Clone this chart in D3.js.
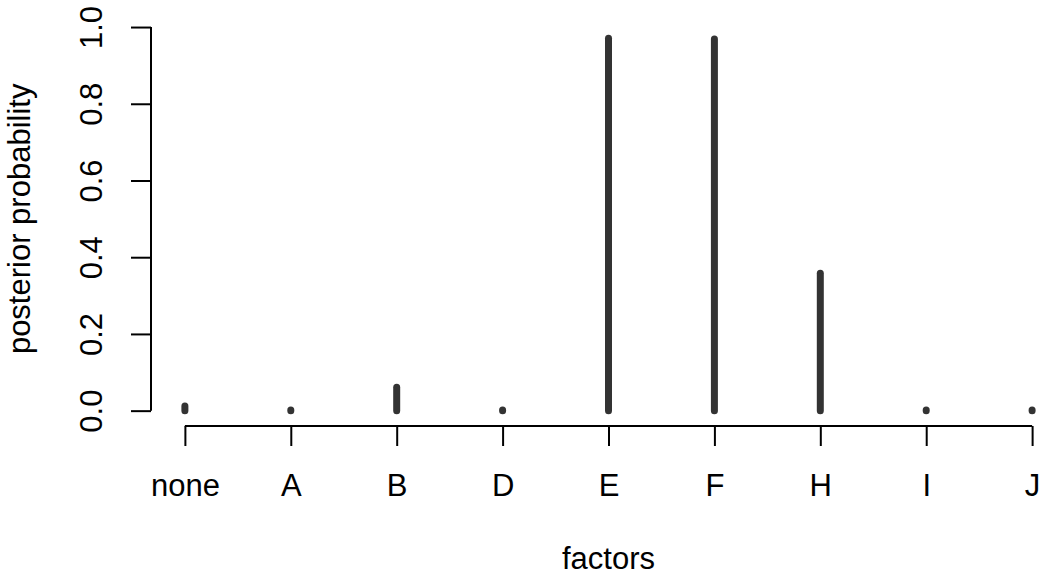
<!DOCTYPE html>
<html>
<head>
<meta charset="utf-8">
<script src="https://cdn.jsdelivr.net/npm/d3@7"></script>
<style>
  body { margin: 0; background: #fff; }
  svg { display: block; font-family: "Liberation Sans", Arial, Helvetica, sans-serif; }
</style>
</head>
<body>
<div class="chart"></div>
<script>
// factor names and their posterior probabilities
var factors = ['none', 'A', 'B', 'D', 'E', 'F', 'H', 'I', 'J'];
var probs = [0.012, 0.002, 0.061, 0.002, 0.971, 0.969, 0.358, 0.002, 0.002];
var yTicks = [0, 0.2, 0.4, 0.6, 0.8, 1.0];

var cfg = {
    w: 1040,
    h: 576,
    left: 151,
    right: 1066,
    top: 11.7,
    bottom: 426,
    fontSize: 31
};

var dataset = factors.map(function (f, i) {
    return { name: f, idx: i + 1, p: probs[i] };
});

var svg = d3.select('.chart')
    .append('svg')
    .attr('width', cfg.w)
    .attr('height', cfg.h);

// R style: 4% padding around the data range
var xScale = d3.scaleLinear()
    .domain([1 - 0.32, factors.length + 0.32])
    .range([cfg.left, cfg.right]);

var yScale = d3.scaleLinear()
    .domain([-0.04, 1.04])
    .range([cfg.bottom, cfg.top]);

// spikes (type = "h")
svg.selectAll('line.spike')
    .data(dataset)
    .enter()
    .append('line')
    .attr('class', 'spike')
    .attr('x1', function (d) { return xScale(d.idx); })
    .attr('x2', function (d) { return xScale(d.idx); })
    .attr('y1', yScale(0))
    .attr('y2', function (d) { return yScale(d.p); })
    .attr('stroke', '#333333')
    .attr('stroke-width', 7)
    .attr('stroke-linecap', 'round');

// x axis
var xAxis = d3.axisBottom(xScale)
    .tickValues(dataset.map(function (d) { return d.idx; }))
    .tickFormat(function (v) { return factors[v - 1]; })
    .tickSize(20);

var gx = svg.append('g')
    .attr('transform', 'translate(0,' + cfg.bottom + ')')
    .call(xAxis);
gx.select('.domain').remove();
gx.append('line')
    .attr('x1', xScale(1))
    .attr('x2', xScale(factors.length))
    .attr('stroke', '#000')
    .attr('stroke-width', 2);
gx.selectAll('.tick line').attr('stroke', '#000').attr('stroke-width', 2);
gx.selectAll('.tick text')
    .attr('y', 70)
    .attr('dy', 0)
    .attr('fill', '#000')
    .style('font-size', cfg.fontSize + 'px');

// y axis
var yAxis = d3.axisLeft(yScale)
    .tickValues(yTicks)
    .tickFormat(d3.format('.1f'))
    .tickSize(20);

var gy = svg.append('g')
    .attr('transform', 'translate(' + cfg.left + ',0)')
    .call(yAxis);
gy.select('.domain').remove();
gy.append('line')
    .attr('y1', yScale(0))
    .attr('y2', yScale(1))
    .attr('stroke', '#000')
    .attr('stroke-width', 2);
gy.selectAll('.tick line').attr('stroke', '#000').attr('stroke-width', 2);
gy.selectAll('.tick text')
    .attr('transform', 'rotate(-90)')
    .attr('x', 0)
    .attr('y', -49)
    .attr('dy', 0)
    .attr('text-anchor', 'middle')
    .attr('fill', '#000')
    .style('font-size', cfg.fontSize + 'px');

// axis titles
svg.append('text')
    .attr('x', (cfg.left + cfg.right) / 2)
    .attr('y', 569)
    .attr('text-anchor', 'middle')
    .style('font-size', cfg.fontSize + 'px')
    .text('factors');

svg.append('text')
    .attr('transform', 'translate(30,' + ((cfg.top + cfg.bottom) / 2) + ') rotate(-90)')
    .attr('text-anchor', 'middle')
    .style('font-size', cfg.fontSize + 'px')
    .text('posterior probability');
</script>
</body>
</html>
